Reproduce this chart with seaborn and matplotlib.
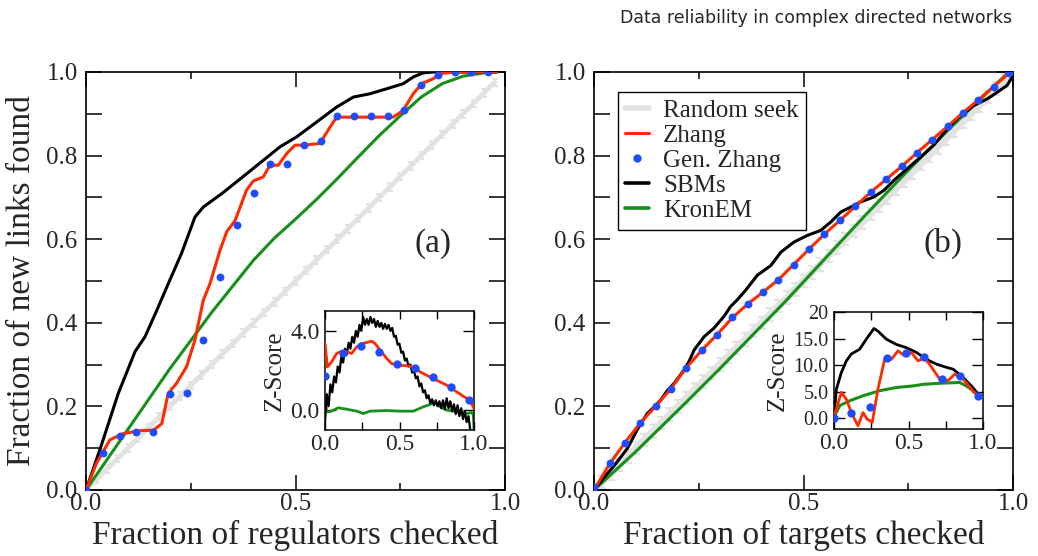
import numpy as np
import matplotlib
matplotlib.use("Agg")
import matplotlib.pyplot as plt
import seaborn as sns
from matplotlib.lines import Line2D
from matplotlib.ticker import FixedLocator, FixedFormatter, MultipleLocator, FuncFormatter

sns.set_theme(style="ticks")
plt.rcParams['font.family'] = ['Liberation Serif', 'DejaVu Serif']

# ---------------- data: panel (a) ----------------
random_a_x = [0.0, 0.025, 0.05, 0.075, 0.1, 0.125, 0.15, 0.175, 0.2, 0.225, 0.25, 0.275, 0.3, 0.325,
              0.35, 0.375, 0.4, 0.425, 0.45, 0.475, 0.5, 0.525, 0.55, 0.575, 0.6, 0.625, 0.65, 0.675,
              0.7, 0.725, 0.75, 0.775, 0.8, 0.825, 0.85, 0.875, 0.9, 0.925, 0.95, 0.975]
random_a_y = [0.0, 0.025, 0.05, 0.075, 0.1, 0.125, 0.15, 0.175, 0.2, 0.225, 0.25, 0.275, 0.3, 0.325,
              0.35, 0.375, 0.4, 0.425, 0.45, 0.475, 0.5, 0.525, 0.55, 0.575, 0.6, 0.625, 0.65, 0.675,
              0.7, 0.725, 0.75, 0.775, 0.8, 0.825, 0.85, 0.875, 0.9, 0.925, 0.95, 0.975]

sbm_a_x = [0, 0.033, 0.077, 0.117, 0.141, 0.169, 0.2, 0.228, 0.26, 0.28, 0.324, 0.379, 0.463, 0.503,
           0.55, 0.598, 0.638, 0.678, 0.718, 0.757, 0.781, 0.805, 0.829, 0.98]
sbm_a_y = [0, 0.096, 0.231, 0.331, 0.367, 0.43, 0.502, 0.566, 0.653, 0.677, 0.709, 0.753, 0.821, 0.845,
           0.88, 0.916, 0.940, 0.948, 0.960, 0.972, 0.988, 0.998, 1.0, 1.0]

zhang_a_x = [0, 0.025, 0.057, 0.089, 0.129, 0.161, 0.181, 0.196, 0.216, 0.24, 0.26, 0.28, 0.296, 0.32,
             0.336, 0.356, 0.383, 0.399, 0.423, 0.439, 0.459, 0.479, 0.499, 0.519, 0.558, 0.578, 0.598,
             0.733, 0.757, 0.781, 0.801, 0.829, 0.845, 0.877, 0.98]
zhang_a_y = [0, 0.064, 0.12, 0.135, 0.142, 0.143, 0.159, 0.231, 0.255, 0.295, 0.359, 0.454, 0.494, 0.574,
             0.618, 0.645, 0.717, 0.739, 0.749, 0.777, 0.777, 0.805, 0.825, 0.825, 0.829, 0.861, 0.892,
             0.892, 0.908, 0.948, 0.972, 0.984, 0.996, 1.0, 1.0]

genz_a_x = [0, 0.04, 0.08, 0.12, 0.16, 0.2, 0.24, 0.28, 0.32, 0.36, 0.4, 0.44, 0.48, 0.52, 0.56, 0.6,
            0.64, 0.68, 0.72, 0.76, 0.8, 0.84, 0.88, 0.92, 0.96]
genz_a_y = [0, 0.088, 0.129, 0.139, 0.139, 0.229, 0.231, 0.359, 0.51, 0.634, 0.711, 0.779, 0.779, 0.826,
            0.834, 0.894, 0.894, 0.894, 0.894, 0.908, 0.970, 0.992, 1.0, 1.0, 1.0]

kron_a_x = [0, 0.1, 0.2, 0.3, 0.4, 0.45, 0.5, 0.55, 0.6, 0.65, 0.7, 0.75, 0.8, 0.85, 0.9, 0.95, 0.98]
kron_a_y = [0, 0.145, 0.29, 0.425, 0.55, 0.603, 0.648, 0.695, 0.745, 0.797, 0.848, 0.895, 0.94, 0.972,
            0.99, 0.998, 1.0]

# inset (a): Z-scores
zsbm_a_y = [-0.6, 0.8, 0.2, 1.3, 0.9, 1.7, 1.4, 2.2, 1.9, 2.7, 2.4, 3.1, 2.8, 3.4, 3.1, 3.7, 3.4, 4.0,
            3.7, 4.3, 4.0, 4.7, 4.3, 4.6, 4.3, 4.7, 4.4, 4.6, 4.2, 4.5, 4.2, 4.4, 4.1, 4.35, 4.1, 4.3,
            4.0, 4.15, 3.7, 3.75, 3.3, 3.35, 2.9, 2.95, 2.5, 2.6, 2.2, 2.3, 1.9, 2.0, 1.6, 1.7, 1.2,
            1.35, 0.9, 1.0, 0.6, 0.75, 0.35, 0.55, 0.25, 0.5, 0.2, 0.45, 0.1, 0.5, 0.05, 0.6, 0.1,
            0.45, -0.05, 0.3, -0.2, 0.25, -0.3, 0.1, -0.45, -0.05, -0.6, -0.3, -1.0]
zsbm_a_x = np.linspace(0, 0.975, len(zsbm_a_y))

zzh_a_x = [0, 0.016, 0.045, 0.078, 0.112, 0.145, 0.179, 0.213, 0.246, 0.28, 0.313, 0.336, 0.369, 0.414,
           0.447, 0.492, 0.548, 0.593, 0.638, 0.682, 0.749, 0.817, 0.884, 0.951, 0.984, 1.0]
zzh_a_y = [3.36, 2.18, 2.44, 2.86, 2.97, 2.94, 2.86, 3.19, 3.36, 3.41, 3.48, 3.36, 3.03, 2.61, 2.35,
           2.27, 2.24, 2.18, 1.93, 1.76, 1.51, 1.26, 0.92, 0.59, 0.34, 0.08]

zgz_a_x = [0, 0.119, 0.239, 0.36, 0.481, 0.604, 0.725, 0.846, 0.966]
zgz_a_y = [1.71, 2.86, 3.24, 2.94, 2.32, 2.15, 1.66, 1.18, 0.52]

zkr_a_x = [0, 0.011, 0.034, 0.089, 0.145, 0.213, 0.257, 0.302, 0.414, 0.503, 0.593, 0.66, 0.705, 0.738,
           0.772, 0.817, 0.884, 0.951, 0.984, 0.996, 1.0]
zkr_a_y = [0.67, -0.08, -0.08, 0.12, 0.05, -0.05, -0.17, -0.05, -0.02, -0.05, -0.05, 0.17, 0.29, 0.37,
           0.17, 0.0, -0.08, -0.17, -0.12, -0.25, -1.0]

# ---------------- data: panel (b) ----------------
random_b_x = [0.0, 0.02, 0.04, 0.06, 0.08, 0.1, 0.12, 0.14, 0.16, 0.18, 0.2, 0.22, 0.24, 0.26, 0.28,
              0.3, 0.32, 0.34, 0.36, 0.38, 0.4, 0.42, 0.44, 0.46, 0.48, 0.5, 0.52, 0.54, 0.56, 0.58,
              0.6, 0.62, 0.64, 0.66, 0.68, 0.7, 0.72, 0.74, 0.76, 0.78, 0.8, 0.82, 0.84, 0.86, 0.88,
              0.9, 0.92, 0.94, 0.96, 0.98, 1.0]
random_b_y = [0.0, 0.02, 0.04, 0.06, 0.08, 0.1, 0.12, 0.14, 0.16, 0.18, 0.2, 0.22, 0.24, 0.26, 0.28,
              0.3, 0.32, 0.34, 0.36, 0.38, 0.4, 0.42, 0.44, 0.46, 0.48, 0.5, 0.52, 0.54, 0.56, 0.58,
              0.6, 0.62, 0.64, 0.66, 0.68, 0.7, 0.72, 0.74, 0.76, 0.78, 0.8, 0.82, 0.84, 0.86, 0.88,
              0.9, 0.92, 0.94, 0.96, 0.98, 1.0]

genz_b_x = [0, 0.037, 0.073, 0.11, 0.147, 0.184, 0.22, 0.257, 0.294, 0.33, 0.367, 0.404, 0.44, 0.477,
            0.514, 0.55, 0.587, 0.624, 0.66, 0.697, 0.734, 0.77, 0.807, 0.844, 0.88, 0.917, 0.954, 0.99]
genz_b_y = [0.006, 0.064, 0.113, 0.161, 0.201, 0.242, 0.293, 0.335, 0.372, 0.413, 0.445, 0.474, 0.502,
            0.539, 0.577, 0.612, 0.645, 0.679, 0.713, 0.743, 0.774, 0.806, 0.837, 0.87, 0.902, 0.934,
            0.965, 0.997]

zhang_b_x = [0, 0.037, 0.073, 0.11, 0.147, 0.184, 0.22, 0.257, 0.294, 0.33, 0.367, 0.404, 0.44, 0.477,
             0.514, 0.55, 0.587, 0.624, 0.66, 0.697, 0.734, 0.77, 0.807, 0.844, 0.88, 0.917, 0.954,
             0.99, 1.0]
zhang_b_y = [0.0, 0.062, 0.112, 0.16, 0.2, 0.243, 0.292, 0.334, 0.372, 0.412, 0.445, 0.474, 0.503, 0.54,
             0.577, 0.612, 0.645, 0.679, 0.712, 0.743, 0.774, 0.806, 0.838, 0.87, 0.902, 0.933, 0.965,
             0.997, 1.0]

sbm_b_x = [0, 0.024, 0.048, 0.08, 0.103, 0.127, 0.145, 0.159, 0.175, 0.191, 0.215, 0.228, 0.239, 0.263,
           0.286, 0.31, 0.326, 0.342, 0.362, 0.39, 0.422, 0.446, 0.477, 0.509, 0.541, 0.565, 0.589,
           0.613, 0.636, 0.668, 0.692, 0.716, 0.748, 0.78, 0.811, 0.843, 0.875, 0.907, 0.939, 0.963,
           0.986, 0.998, 1.0]
sbm_b_y = [0, 0.03, 0.058, 0.1, 0.144, 0.183, 0.2, 0.215, 0.238, 0.255, 0.287, 0.31, 0.335, 0.367,
           0.387, 0.415, 0.439, 0.455, 0.478, 0.514, 0.537, 0.569, 0.593, 0.609, 0.621, 0.641, 0.665,
           0.677, 0.689, 0.701, 0.717, 0.741, 0.769, 0.797, 0.825, 0.864, 0.896, 0.92, 0.936, 0.952,
           0.968, 0.988, 1.0]

kron_b_x = [0, 0.1, 0.215, 0.3, 0.4575, 0.55, 0.65, 0.75, 0.85, 0.95, 0.99]
kron_b_y = [0, 0.092, 0.205, 0.29, 0.452, 0.552, 0.66, 0.765, 0.866, 0.962, 1.0]

# inset (b)
zsbm_b_x = [0, 0.016, 0.049, 0.083, 0.116, 0.172, 0.217, 0.268, 0.295, 0.351, 0.418, 0.485, 0.553,
            0.62, 0.687, 0.754, 0.799, 0.855, 0.922, 0.978]
zsbm_b_y = [0, 5.5, 8.6, 10.8, 12.1, 13.0, 14.9, 16.9, 16.4, 14.9, 13.9, 13.3, 12.4, 11.1, 10.2, 9.6,
            9.25, 8.0, 6.1, 4.25]

zzh_b_x = [0, 0.049, 0.083, 0.116, 0.161, 0.195, 0.221, 0.257, 0.295, 0.34, 0.385, 0.43, 0.474, 0.519,
           0.564, 0.609, 0.664, 0.709, 0.765, 0.81, 0.866, 0.922, 0.978]
zzh_b_y = [0.2, 4.9, 3.6, 1.1, -1.4, 1.1, -0.1, -0.75, 5.5, 11.1, 11.1, 12.7, 11.75, 12.4, 10.8, 11.4,
           9.25, 7.4, 7.1, 8.3, 7.4, 5.5, 3.9]

zgz_b_x = [0, 0.116, 0.239, 0.358, 0.481, 0.602, 0.723, 0.843, 0.964]
zgz_b_y = [0, 0.94, 2.06, 11.4, 12.25, 11.56, 7.4, 7.9, 4.25]

zkr_b_x = [0, 0.038, 0.105, 0.195, 0.306, 0.418, 0.53, 0.597, 0.709, 0.843, 0.888, 0.933, 0.978]
zkr_b_y = [0.2, 2.4, 3.3, 4.25, 5.2, 5.8, 6.1, 6.4, 6.6, 6.75, 6.1, 5.2, 3.9]

legend_labels = ["Random seek", "Zhang", "Gen. Zhang", "SBMs", "KronEM"]

# ---------------- styles ----------------
GRAY = "#e2e2e2"
RED = "#ff2a00"
BLUE = "#1f4cff"
GREEN = "#16901a"
BLACK = "#000000"

W, H = 1038, 556
fig = plt.figure(figsize=(W / 100, H / 100), dpi=100)


def fig_rect(x0, y0, x1, y1):
    return [x0 / W, 1 - y1 / H, (x1 - x0) / W, (y1 - y0) / H]


axA = fig.add_axes(fig_rect(86, 72, 505, 490))
axB = fig.add_axes(fig_rect(594, 72, 1013, 490))
inA = fig.add_axes(fig_rect(325, 311, 474, 430))
inB = fig.add_axes(fig_rect(834, 312, 983, 429))


def line(ax, x, y, color, lw, z):
    sns.lineplot(x=x, y=y, ax=ax, color=color, lw=lw, sort=False, estimator=None, zorder=z)


def dots(ax, x, y, s):
    sns.scatterplot(x=x, y=y, ax=ax, color=BLUE, s=s, linewidth=0, zorder=6)


def style_main(ax):
    ax.set_xlim(0, 1)
    ax.set_ylim(0, 1)
    ax.xaxis.set_major_locator(FixedLocator([0, 0.5, 1.0]))
    ax.xaxis.set_minor_locator(FixedLocator([0.25, 0.75]))
    ax.xaxis.set_major_formatter(FuncFormatter(lambda v, p: f"{v:.1f}"))
    ax.yaxis.set_major_locator(MultipleLocator(0.1))
    ax.yaxis.set_major_formatter(FuncFormatter(lambda v, p: f"{v:.1f}" if round(v * 10) % 2 == 0 else ""))
    ax.tick_params(which="both", direction="in", top=True, right=True, color="black", width=1.1)
    ax.tick_params(axis="y", which="major", length=11.5, labelsize=18, pad=6)
    ax.tick_params(axis="x", which="major", length=11, labelsize=18, pad=2)
    ax.tick_params(axis="x", which="minor", length=5)
    for s in ax.spines.values():
        s.set_color("black")
        s.set_linewidth(1.2)
    ax.set_facecolor("white")


def style_inset(ax, ylim, yticks, ylabels, ysize):
    ax.set_xlim(0, 1)
    ax.set_ylim(*ylim)
    ax.xaxis.set_major_locator(FixedLocator([0, 0.5, 1.0]))
    ax.xaxis.set_minor_locator(FixedLocator([0.25, 0.75]))
    ax.xaxis.set_major_formatter(FuncFormatter(lambda v, p: f"{v:.1f}"))
    ax.yaxis.set_major_locator(FixedLocator(yticks))
    ax.yaxis.set_major_formatter(FixedFormatter(ylabels))
    ax.tick_params(which="both", direction="in", top=True, right=True, color="black", width=1.0)
    ax.tick_params(axis="x", which="both", length=6, labelsize=17, pad=3)
    ax.tick_params(axis="y", which="major", length=8, labelsize=ysize, pad=4)
    for s in ax.spines.values():
        s.set_color("black")
        s.set_linewidth(1.1)
    ax.set_facecolor("white")
    ax.set_xlabel("")
    ax.set_ylabel("Z-Score", fontsize=18, labelpad=3)


# ---- panel (a) ----
axA.errorbar(random_a_x, random_a_y, yerr=0.009, color=GRAY, lw=3.5, elinewidth=1.5,
             capsize=2.5, capthick=1.5, zorder=1)
line(axA, kron_a_x, kron_a_y, GREEN, 2.2, 2)
line(axA, sbm_a_x, sbm_a_y, BLACK, 2.2, 3)
line(axA, zhang_a_x, zhang_a_y, RED, 2.2, 4)
dots(axA, genz_a_x, genz_a_y, 32)
style_main(axA)
axA.set_xlabel("Fraction of regulators checked", fontsize=24, labelpad=4)
axA.set_ylabel("Fraction of new links found", fontsize=24, labelpad=7)
axA.text(0.828, 0.59, "(a)", fontsize=24, ha="center", va="center")

# ---- panel (b) ----
axB.errorbar(random_b_x, random_b_y, yerr=0.015, color=GRAY, lw=5, elinewidth=1.6,
             capsize=3.2, capthick=1.6, zorder=1)
line(axB, kron_b_x, kron_b_y, GREEN, 2.2, 2)
line(axB, sbm_b_x, sbm_b_y, BLACK, 2.2, 3)
line(axB, zhang_b_x, zhang_b_y, RED, 2.2, 4)
dots(axB, genz_b_x, genz_b_y, 32)
style_main(axB)
axB.set_xlabel("Fraction of targets checked", fontsize=24, labelpad=4)
axB.set_ylabel("")
axB.text(0.833, 0.59, "(b)", fontsize=24, ha="center", va="center")

handles = [Line2D([], [], color=GRAY, lw=4),
           Line2D([], [], color=RED, lw=2.2),
           Line2D([], [], color=BLUE, lw=0, marker="o", markersize=6, markeredgewidth=0),
           Line2D([], [], color=BLACK, lw=2.6),
           Line2D([], [], color=GREEN, lw=2.6)]
leg = axB.legend(handles, legend_labels, loc="upper left", bbox_to_anchor=(0.057, 0.952),
                 borderaxespad=0, fontsize=18, frameon=True, fancybox=False, shadow=False,
                 handlelength=0.95, handletextpad=0.55, labelspacing=0.1, borderpad=0.3)
leg.get_frame().set_edgecolor("black")
leg.get_frame().set_linewidth(1.0)
leg.get_frame().set_alpha(1)

# ---- inset (a) ----
line(inA, zkr_a_x, zkr_a_y, GREEN, 2.0, 2)
line(inA, zsbm_a_x, zsbm_a_y, BLACK, 1.6, 3)
line(inA, zzh_a_x, zzh_a_y, RED, 2.0, 4)
dots(inA, zgz_a_x, zgz_a_y, 36)
style_inset(inA, (-1.0, 5.0), [0.0, 4.0], ["0.0", "4.0"], 17)

# ---- inset (b) ----
line(inB, zkr_b_x, zkr_b_y, GREEN, 2.2, 2)
line(inB, zsbm_b_x, zsbm_b_y, BLACK, 2.0, 3)
line(inB, zzh_b_x, zzh_b_y, RED, 2.0, 4)
dots(inB, zgz_b_x, zgz_b_y, 36)
style_inset(inB, (-2.0, 20.0), [0, 5, 10, 15, 20], ["0.0", "5.0", "10.0", "15.0", "20"], 14.5)

fig.text(1012 / W, 1 - 18 / H, "Data reliability in complex directed networks",
         ha="right", va="center", fontsize=12.5, family=["DejaVu Sans"])

fig.savefig("out.png", dpi=100)
